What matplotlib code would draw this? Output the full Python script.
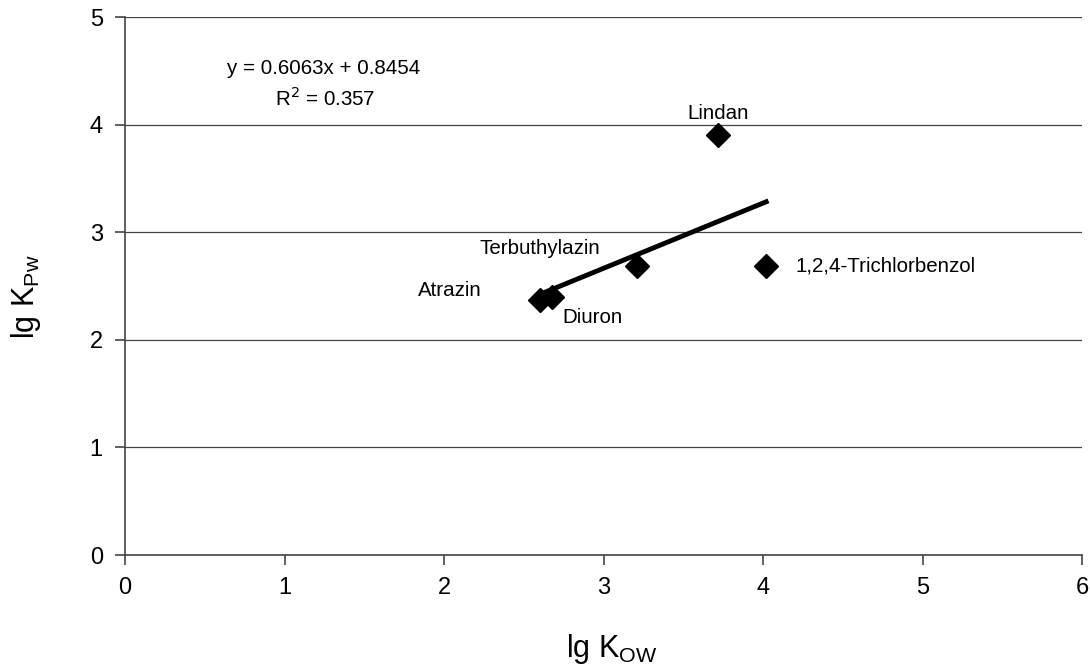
import matplotlib.pyplot as plt
import numpy as np

plt.rcParams["font.family"] = ["Liberation Sans", "DejaVu Sans"]

names = ["Atrazin", "Diuron", "Terbuthylazin", "Lindan", "1,2,4-Trichlorbenzol"]
lg_kow = [2.60, 2.68, 3.21, 3.72, 4.02]
lg_kpw = [2.37, 2.40, 2.69, 3.90, 2.69]
slope, intercept, r2 = 0.6063, 0.8454, 0.357

# label offsets in points (dx, dy, ha)
label_pos = {
    "Atrazin": (-42, 7, "right"),
    "Diuron": (7, -15, "left"),
    "Terbuthylazin": (-70, 12, "center"),
    "Lindan": (0, 16, "center"),
    "1,2,4-Trichlorbenzol": (21, 0, "left"),
}


def main() -> None:
    fig = plt.figure(figsize=(10.9, 6.66), dpi=100)
    ax = fig.add_axes([125 / 1090, 1 - 555 / 666, (1082 - 125) / 1090, (555 - 17) / 666])

    x = np.array(lg_kow)
    xs = np.array([x.min(), x.max()])
    ax.plot(xs, slope * xs + intercept, color="black", lw=3.5, zorder=3)
    ax.plot(lg_kow, lg_kpw, "D", color="black", ms=12, zorder=4, ls="none")

    for name, xv, yv in zip(names, lg_kow, lg_kpw):
        dx, dy, ha = label_pos[name]
        ax.annotate(name, (xv, yv), xytext=(dx, dy), textcoords="offset points",
                    ha=ha, va="center", fontsize=14.8)

    ax.text(0.1066, 0.905, f"y = {slope}x + {intercept}", transform=ax.transAxes,
            ha="left", va="center", fontsize=14.8)
    ax.text(0.157, 0.849, f"R$^2$ = {r2}", transform=ax.transAxes,
            ha="left", va="center", fontsize=14.8)

    ax.set_xlim(0, 6)
    ax.set_ylim(0, 5)
    ax.set_xticks(range(7))
    ax.set_yticks(range(6))
    ax.grid(axis="y", color="#444444", lw=0.9)
    ax.set_axisbelow(True)
    for s in ["top", "right"]:
        ax.spines[s].set_visible(False)
    for s in ["left", "bottom"]:
        ax.spines[s].set_color("#444444")
        ax.spines[s].set_linewidth(1.2)
    ax.tick_params(labelsize=17, length=7, width=1.2, color="#444444", pad=9)

    ax.set_xlabel("lg K$_{\\mathregular{OW}}$", fontsize=22)
    ax.set_ylabel("lg K$_{\\mathregular{Pw}}$", fontsize=22)
    ax.xaxis.set_label_coords(0.509, -0.143)
    ax.yaxis.set_label_coords(-0.086, 0.481)

    fig.savefig("out.png", dpi=100)


if __name__ == "__main__":
    main()
